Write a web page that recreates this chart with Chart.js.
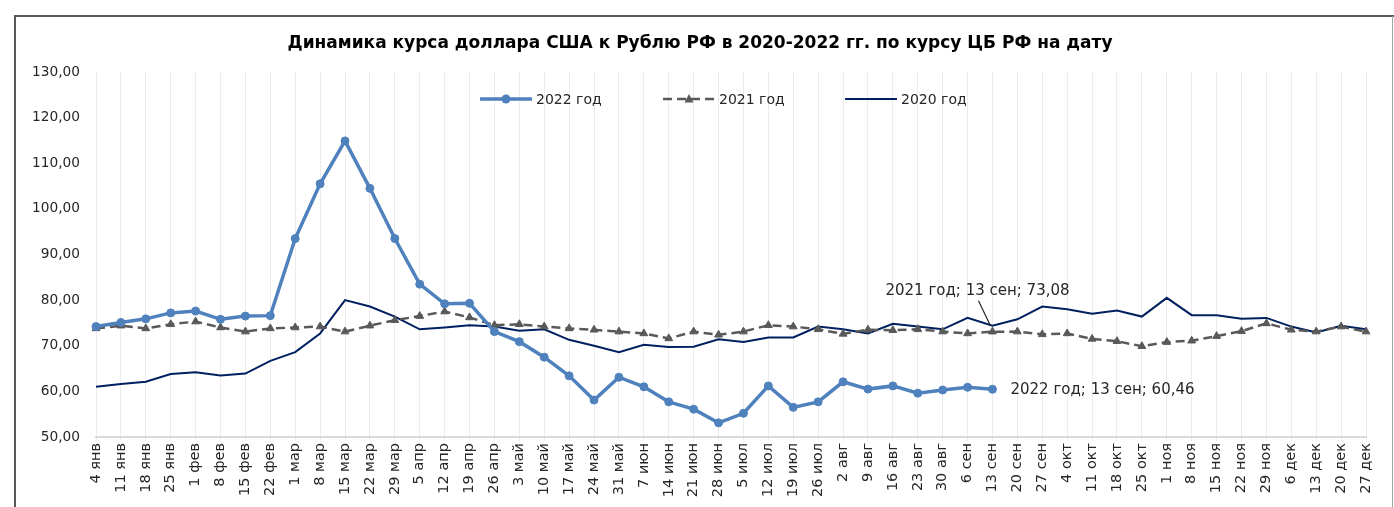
<!DOCTYPE html>
<html>
<head>
<meta charset="utf-8">
<script src="https://cdn.jsdelivr.net/npm/chart.js@4/dist/chart.umd.min.js"></script>
<style>
  html, body { margin: 0; padding: 0; background: #fff; }
  #wrap { position: relative; width: 1394px; height: 507px; }
</style>
</head>
<body>
<div id="wrap"><canvas id="chart"></canvas></div>
<script>
const weeks = [
  "4 янв", "11 янв", "18 янв", "25 янв", "1 фев", "8 фев", "15 фев", "22 фев",
  "1 мар", "8 мар", "15 мар", "22 мар", "29 мар", "5 апр", "12 апр", "19 апр",
  "26 апр", "3 май", "10 май", "17 май", "24 май", "31 май", "7 июн", "14 июн",
  "21 июн", "28 июн", "5 июл", "12 июл", "19 июл", "26 июл", "2 авг", "9 авг",
  "16 авг", "23 авг", "30 авг", "6 сен", "13 сен", "20 сен", "27 сен", "4 окт",
  "11 окт", "18 окт", "25 окт", "1 ноя", "8 ноя", "15 ноя", "22 ноя", "29 ноя",
  "6 дек", "13 дек", "20 дек", "27 дек"
];

const rate2022 = [
  74.2, 75.1, 75.9, 77.2, 77.6, 75.8, 76.5, 76.6,
  93.5, 105.5, 114.9, 104.5, 93.5, 83.5, 79.2, 79.3,
  73.1, 70.9, 67.5, 63.4, 58.1, 63.1, 61.0, 57.7,
  56.1, 53.1, 55.2, 61.2, 56.5, 57.7, 62.1, 60.5,
  61.2, 59.6, 60.3, 60.9, 60.46
];

const rate2021 = [
  73.8, 74.4, 73.8, 74.7, 75.3, 74.0, 73.1, 73.8,
  74.0, 74.2, 73.1, 74.4, 75.6, 76.5, 77.5, 76.2,
  74.5, 74.7, 74.2, 73.8, 73.5, 73.1, 72.7, 71.6,
  73.1, 72.4, 73.1, 74.5, 74.2, 73.6, 72.6, 73.5,
  73.4, 73.6, 73.1, 72.7, 73.08, 73.1, 72.5, 72.7,
  71.5, 71.0, 69.9, 70.8, 71.1, 72.1, 73.2, 74.9,
  73.5, 73.1, 74.2, 73.1
];

const rate2020 = [
  61.0, 61.6, 62.1, 63.8, 64.2, 63.5, 63.9, 66.7,
  68.6, 72.7, 80.0, 78.6, 76.4, 73.6, 74.0, 74.5,
  74.2, 73.3, 73.6, 71.3, 70.0, 68.6, 70.2, 69.7,
  69.8, 71.4, 70.8, 71.8, 71.8, 74.2, 73.6, 72.7,
  74.8, 74.2, 73.6, 76.1, 74.4, 75.8, 78.6, 78.0,
  77.0, 77.7, 76.4, 80.5, 76.7, 76.7, 75.9, 76.1,
  74.2, 72.9, 74.4, 73.6
];

const seriesNames = ["2022 год", "2021 год", "2020 год"];
const yTicks = [50, 60, 70, 80, 90, 100, 110, 120, 130];
const titleText = "Динамика курса доллара США к Рублю РФ в 2020-2022 гг. по курсу ЦБ РФ на дату";

const FONT = "'DejaVu Sans', sans-serif";
const fmt = v => v.toFixed(2).replace(".", ",");

// frame, title, legend inside plot and the two data labels for 13 сен
const extras = {
  id: "extras",
  afterDraw(chart) {
    const ctx = chart.ctx;
    const x = chart.scales.x, y = chart.scales.y;
    ctx.save();

    // frame
    ctx.strokeStyle = "#595959";
    ctx.lineWidth = 2;
    ctx.beginPath();
    ctx.moveTo(15, 507);
    ctx.lineTo(15, 16);
    ctx.lineTo(1394, 16);
    ctx.stroke();
    ctx.strokeStyle = "#a6a6a6";
    ctx.lineWidth = 1;
    ctx.beginPath();
    ctx.moveTo(1392.5, 16);
    ctx.lineTo(1392.5, 507);
    ctx.stroke();

    // title
    ctx.font = "bold 17px " + FONT;
    ctx.fillStyle = "#000";
    ctx.textAlign = "center";
    ctx.textBaseline = "middle";
    ctx.fillText(titleText, 700, 44);

    // legend
    ctx.font = "14px " + FONT;
    ctx.fillStyle = "#262626";
    ctx.textAlign = "left";
    const ly = 99;
    const items = [
      { x0: 480, ds: chart.data.datasets[0] },
      { x0: 663, ds: chart.data.datasets[1] },
      { x0: 845, ds: chart.data.datasets[2] }
    ];
    items.forEach(it => {
      const ds = it.ds;
      ctx.strokeStyle = ds.borderColor;
      ctx.lineWidth = ds.borderWidth;
      ctx.setLineDash(ds.borderDash || []);
      ctx.beginPath();
      ctx.moveTo(it.x0, ly);
      ctx.lineTo(it.x0 + 52, ly);
      ctx.stroke();
      ctx.setLineDash([]);
      const mx = it.x0 + 26;
      if (ds.pointStyle === "circle") {
        ctx.fillStyle = ds.pointBackgroundColor;
        ctx.beginPath();
        ctx.arc(mx, ly, 4.5, 0, Math.PI * 2);
        ctx.fill();
      } else if (ds.pointStyle === "triangle") {
        ctx.fillStyle = ds.pointBackgroundColor;
        ctx.beginPath();
        ctx.moveTo(mx, ly - 5);
        ctx.lineTo(mx + 4.5, ly + 3.5);
        ctx.lineTo(mx - 4.5, ly + 3.5);
        ctx.closePath();
        ctx.fill();
      }
      ctx.fillStyle = "#262626";
      ctx.fillText(ds.label, it.x0 + 56, ly + 1);
    });

    // data labels
    ctx.font = "15px " + FONT;
    const i = 36;
    const px = x.getPixelForValue(i);
    const p21 = y.getPixelForValue(rate2021[i]);
    const p22 = y.getPixelForValue(rate2022[i]);
    ctx.fillText(seriesNames[1] + "; " + weeks[i] + "; " + fmt(rate2021[i]), px - 107, p21 - 41);
    ctx.fillText(seriesNames[0] + "; " + weeks[i] + "; " + fmt(rate2022[i]), px + 18, p22 + 1);
    ctx.strokeStyle = "#262626";
    ctx.lineWidth = 1.2;
    ctx.beginPath();
    ctx.moveTo(px - 14, p21 - 31);
    ctx.lineTo(px - 2, p21 - 6);
    ctx.stroke();

    ctx.restore();
  }
};

new Chart(document.getElementById("chart"), {
  type: "line",
  data: {
    labels: weeks,
    datasets: [
      {
        label: seriesNames[0],
        data: rate2022,
        borderColor: "#4f81bd",
        backgroundColor: "#4f81bd",
        pointBackgroundColor: "#4f81bd",
        pointBorderColor: "#4f81bd",
        borderWidth: 3.5,
        pointStyle: "circle",
        pointRadius: 4,
        pointBorderWidth: 1,
        order: 1
      },
      {
        label: seriesNames[1],
        data: rate2021,
        borderColor: "#595959",
        backgroundColor: "#595959",
        pointBackgroundColor: "#595959",
        pointBorderColor: "#595959",
        borderWidth: 2.5,
        borderDash: [9, 5],
        pointStyle: "triangle",
        pointRadius: 4.5,
        pointBorderWidth: 1,
        order: 2
      },
      {
        label: seriesNames[2],
        data: rate2020,
        borderColor: "#002060",
        backgroundColor: "#002060",
        borderWidth: 2,
        pointStyle: false,
        pointRadius: 0,
        order: 3
      }
    ]
  },
  options: {
    responsive: true,
    maintainAspectRatio: false,
    animation: false,
    layout: {
      padding: { left: 14, right: 28, top: 72, bottom: 0 }
    },
    plugins: {
      legend: { display: false },
      tooltip: { enabled: false },
      title: { display: false }
    },
    scales: {
      x: {
        offset: false,
        grid: {
          color: "#ececec",
          lineWidth: 1,
          drawTicks: true,
          tickLength: 4
        },
        border: { color: "#d9d9d9", width: 2 },
        ticks: {
          autoSkip: false,
          maxRotation: 90,
          minRotation: 90,
          color: "#262626",
          padding: 2,
          font: { family: FONT, size: 14.5 }
        },
        afterFit(scale) { scale.height = 70; }
      },
      y: {
        min: 50,
        max: 130,
        grid: { display: false, drawTicks: false },
        border: { display: false },
        afterBuildTicks(scale) {
          scale.ticks = yTicks.map(v => ({ value: v }));
        },
        ticks: {
          color: "#262626",
          padding: 16,
          font: { family: FONT, size: 13.7 },
          callback: v => fmt(v)
        },
        afterFit(scale) { scale.width = 82; }
      }
    }
  },
  plugins: [extras]
});
</script>
</body>
</html>
